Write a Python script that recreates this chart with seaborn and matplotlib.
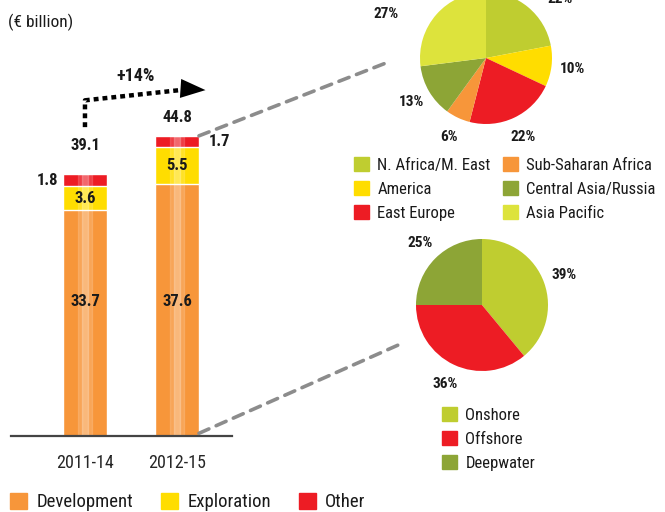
import matplotlib
matplotlib.use("Agg")
import matplotlib.pyplot as plt
from matplotlib.patches import Patch, ConnectionPatch
import seaborn as sns
import pandas as pd

# ---- data ----
periods = ["2011-14", "2012-15"]
development = [33.7, 37.6]
exploration = [3.6, 5.5]
other = [1.8, 1.7]
totals = [39.1, 44.8]
growth_label = "+14%"

region_names = ["N. Africa/M. East", "America", "East Europe",
                "Sub-Saharan Africa", "Central Asia/Russia", "Asia Pacific"]
region_share = [22, 10, 22, 6, 13, 27]

area_names = ["Onshore", "Offshore", "Deepwater"]
area_share = [39, 36, 25]

# ---- style ----
sns.set_style("white")
plt.rcParams["font.family"] = ["Roboto Condensed", "DejaVu Sans"]
plt.rcParams["text.color"] = "#1a1a1a"

ORANGE, YELLOW, RED = "#f7963a", "#ffdd00", "#ed1c24"
LIME, OLIVE, PALE = "#bfcd30", "#8da536", "#dde33c"
region_colors = [LIME, YELLOW, RED, ORANGE, OLIVE, PALE]
area_colors = [LIME, RED, OLIVE]

W, H = 665, 512
fig = plt.figure(figsize=(W / 100, H / 100), dpi=100)


def px_axes(x0, y0, x1, y1):
    return fig.add_axes([x0 / W, 1 - y1 / H, (x1 - x0) / W, (y1 - y0) / H])


# ---- stacked bars ----
df = pd.DataFrame({"period": periods, "dev": development,
                   "exp": exploration, "other": other})
df["lvl2"] = df["dev"] + df["exp"]
df["lvl3"] = df["lvl2"] + df["other"]

ax = px_axes(11, 36, 232, 436)
bw = 0.478
sns.barplot(data=df, x="period", y="lvl3", color=RED, saturation=1, width=bw, ax=ax)
sns.barplot(data=df, x="period", y="lvl2", color=YELLOW, saturation=1, width=bw, ax=ax)
sns.barplot(data=df, x="period", y="dev", color=ORANGE, saturation=1, width=bw, ax=ax)
# glossy stripe
sns.barplot(data=df, x="period", y="lvl3", color="white", alpha=0.15, saturation=1, width=0.16, ax=ax)
sns.barplot(data=df, x="period", y="lvl3", color="white", alpha=0.22, saturation=1, width=0.06, ax=ax)

ax.set_xlim(-0.804, 1.598)
ax.set_ylim(0, 400 / 6.7)
ax.set_xlabel("")
ax.set_ylabel("")
ax.set_yticks([])
for s in ["top", "right", "left"]:
    ax.spines[s].set_visible(False)
ax.spines["bottom"].set_color("#444444")
ax.spines["bottom"].set_linewidth(1.6)
ax.tick_params(axis="x", length=0, pad=13, labelsize=13)

lab = dict(ha="center", va="center", fontsize=12, fontweight="bold")
total_offsets = [4.3, 2.8]
for i in range(len(periods)):
    ax.text(i, 20, f"{development[i]:.1f}", **lab)
    ax.text(i, development[i] + exploration[i] / 2, f"{exploration[i]:.1f}", **lab)
    ax.text(i, totals[i] + total_offsets[i], f"{totals[i]:.1f}", **lab)
ax.text(0 - bw / 2 - 0.17, development[0] + exploration[0] + other[0] / 2,
        f"{other[0]:.1f}", **lab)
ax.text(1 + bw / 2 + 0.22, development[1] + exploration[1] + other[1] / 2,
        f"{other[1]:.1f}", **lab)

# growth arrow
ax.plot([0, 0, 1.15], [totals[0] + 7, totals[0] + 11, totals[1] + 7.0],
        color="black", lw=3.2, ls=(0, (1.1, 0.9)), clip_on=False)
ax.annotate("", xy=(1.34, totals[1] + 6.8), xytext=(1.12, totals[1] + 7.0),
            arrowprops=dict(arrowstyle="-|>,head_length=1.0,head_width=0.38",
                            color="black", lw=0, mutation_scale=18),
            annotation_clip=False)
ax.text(0.55, totals[1] + 9.0, growth_label, **lab | {"fontsize": 13})

fig.text(8 / W, 1 - 22 / H, "(€ billion)", fontsize=12.5, va="center", ha="left")

# ---- pies ----
pie_kw = dict(startangle=90, counterclock=False, labeldistance=1.32,
              wedgeprops=dict(linewidth=0),
              textprops=dict(fontsize=11, fontweight="bold"))

ax_top = px_axes(387, -41, 585, 157)
_, t1 = ax_top.pie(region_share, colors=region_colors,
                   labels=[f"{v}%" for v in region_share], **pie_kw)
ax_top.set_xlim(-1.5, 1.5)
ax_top.set_ylim(-1.5, 1.5)
# the two labels near the top edge sit a bit further out in the original
t1[0].set_position((1.12, 0.9))
t1[5].set_position((-1.52, 0.67))

ax_bot = px_axes(383, 206, 581, 404)
_, t2 = ax_bot.pie(area_share, colors=area_colors,
                   labels=[f"{v}%" for v in area_share], **pie_kw)
ax_bot.set_xlim(-1.5, 1.5)
ax_bot.set_ylim(-1.5, 1.5)
for t in list(t1) + list(t2):
    t.set_ha("center")
    t.set_va("center")

# dashed connectors
for tgt, pt, y0 in [(ax_top, (-1.45, -0.05), totals[1]), (ax_bot, (-1.21, -0.58), 0.4)]:
    con = ConnectionPatch(xyA=(1 + bw / 2, y0), coordsA=ax.transData,
                          xyB=pt, coordsB=tgt.transData,
                          color="#8c8c8c", lw=2.6, ls=(0, (3, 2.2)))
    fig.add_artist(con)

# ---- legends ----
leg_kw = dict(frameon=False, handlelength=0.9, handleheight=0.9,
              handletextpad=0.5, borderaxespad=0, borderpad=0, loc="upper left")

fig.legend([Patch(color=c) for c in region_colors], region_names, ncol=2,
           bbox_to_anchor=(354 / W, 1 - 157 / H), fontsize=12,
           labelspacing=0.5, columnspacing=0.75, **leg_kw)
fig.legend([Patch(color=c) for c in area_colors], area_names, ncol=1,
           bbox_to_anchor=(442 / W, 1 - 407 / H), fontsize=12,
           labelspacing=0.5, **leg_kw)
fig.legend([Patch(color=c) for c in [ORANGE, YELLOW, RED]],
           ["Development", "Exploration", "Other"], ncol=3,
           bbox_to_anchor=(10 / W, 1 - 493 / H), fontsize=13.5,
           columnspacing=1.5, **leg_kw)

fig.savefig("out.png", dpi=100, facecolor="white")
